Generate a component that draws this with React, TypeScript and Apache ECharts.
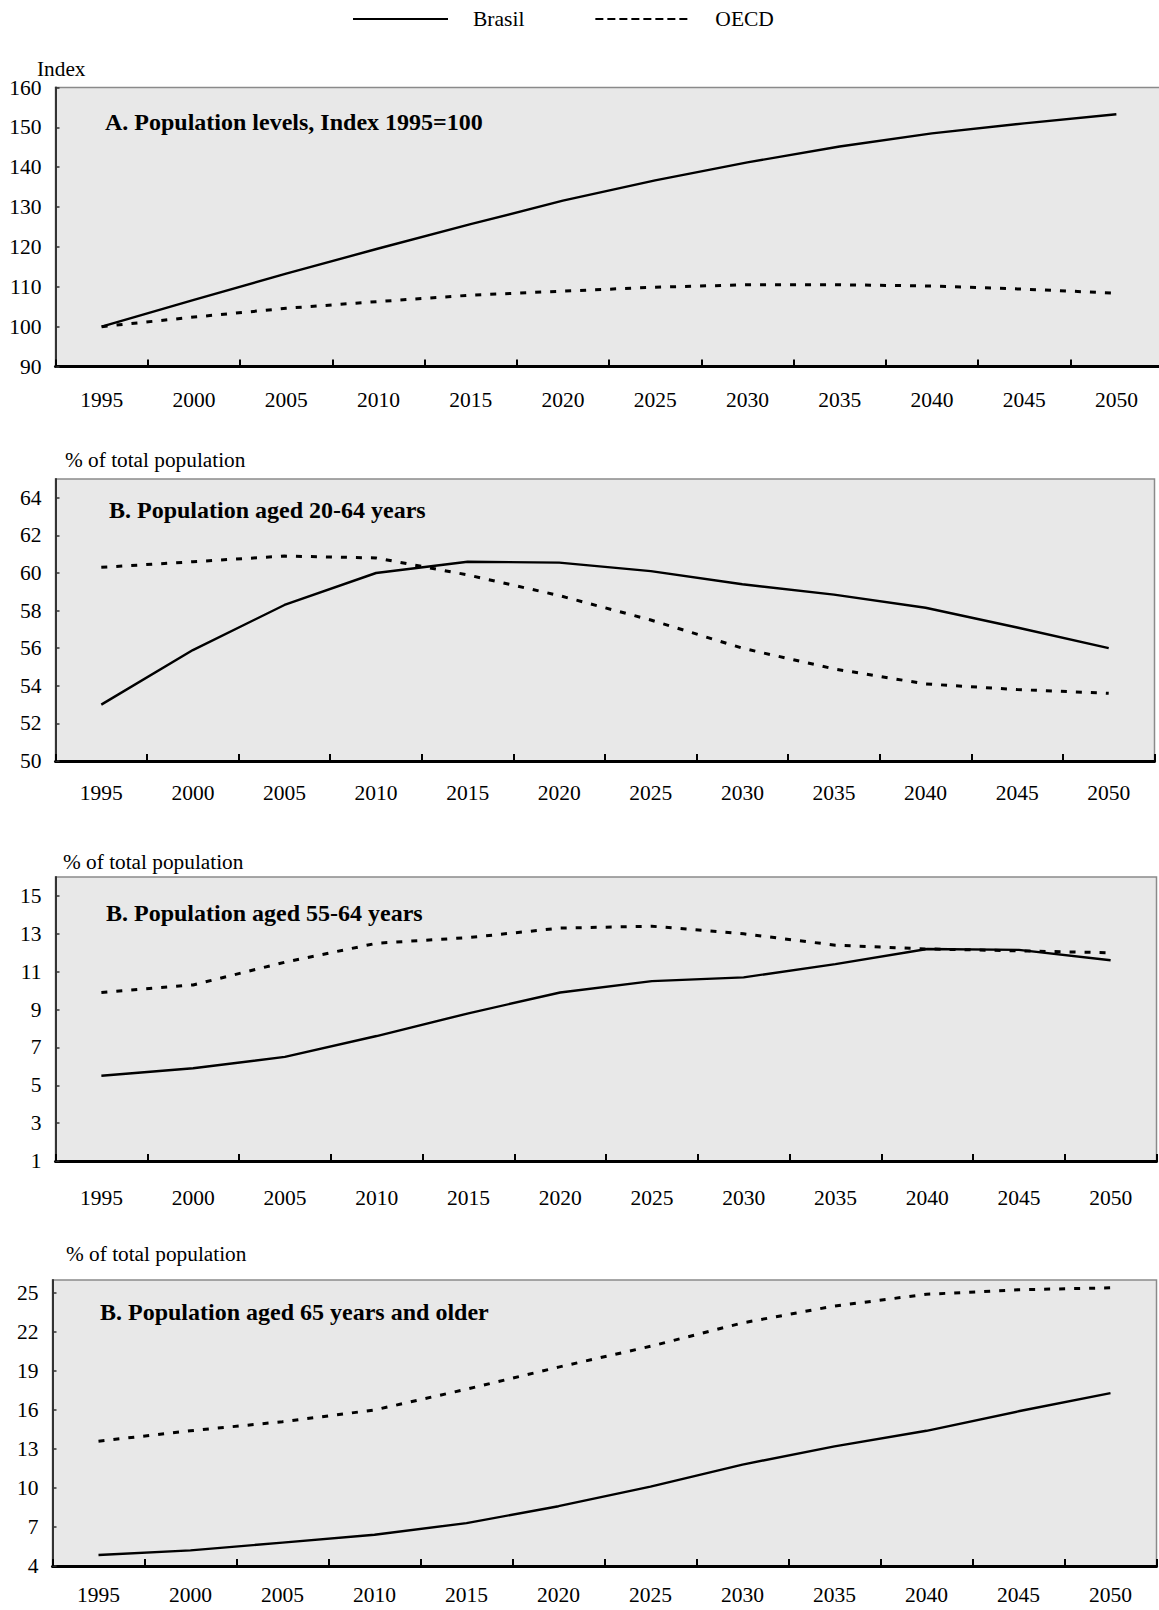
import React, { useEffect, useRef } from "react";
import * as echarts from "echarts";

const years = ["1995", "2000", "2005", "2010", "2015", "2020", "2025", "2030", "2035", "2040", "2045", "2050"];

const levelBrasil = [100, 106.7, 113.3, 119.6, 125.7, 131.6, 136.7, 141.2, 145.2, 148.5, 151.0, 153.3];
const levelOECD = [100, 102.4, 104.6, 106.3, 107.9, 108.9, 109.9, 110.5, 110.5, 110.2, 109.4, 108.4];

const age2064Brasil = [53.0, 55.9, 58.3, 60.0, 60.6, 60.55, 60.1, 59.4, 58.85, 58.15, 57.1, 56.0];
const age2064OECD = [60.3, 60.6, 60.9, 60.8, 59.9, 58.8, 57.5, 56.0, 54.9, 54.1, 53.8, 53.6];

const age5564Brasil = [5.5, 5.9, 6.5, 7.6, 8.8, 9.9, 10.5, 10.7, 11.4, 12.2, 12.15, 11.6];
const age5564OECD = [9.9, 10.3, 11.5, 12.5, 12.8, 13.3, 13.4, 13.0, 12.4, 12.2, 12.1, 12.0];

const age65Brasil = [4.85, 5.2, 5.8, 6.4, 7.3, 8.6, 10.1, 11.8, 13.2, 14.4, 15.9, 17.3];
const age65OECD = [13.6, 14.4, 15.1, 16.0, 17.6, 19.3, 20.9, 22.7, 24.0, 24.9, 25.25, 25.4];

const ticksA = [90, 100, 110, 120, 130, 140, 150, 160];
const ticksB = [50, 52, 54, 56, 58, 60, 62, 64];
const ticksC = [1, 3, 5, 7, 9, 11, 13, 15];
const ticksD = [4, 7, 10, 13, 16, 19, 22, 25];

const panelTitles = [
  "A. Population levels, Index 1995=100",
  "B. Population aged 20-64 years",
  "B. Population aged 55-64 years",
  "B. Population aged 65 years and older",
];

const FONT = "'Liberation Serif', 'Times New Roman', serif";

export default function App() {
  const ref = useRef<HTMLDivElement>(null);

  useEffect(() => {
    if (!ref.current) return;
    const chart = echarts.init(ref.current, undefined, { renderer: "svg" });

    const grids = [
      { left: 55.5, top: 87.5, width: 1107, height: 279 },
      { left: 55.5, top: 479, width: 1099, height: 282 },
      { left: 55.5, top: 877, width: 1101, height: 284 },
      { left: 52.5, top: 1280, width: 1104, height: 286 },
    ].map((g) => ({
      ...g,
      show: true,
      backgroundColor: "#e8e8e8",
      borderColor: "#8a8a8a",
      borderWidth: 1.5,
      containLabel: false,
      outerBoundsMode: "none",
    }));

    const xMargins = [22, 21, 26, 18];
    const xAxes = grids.map((_, i) => ({
      type: "category",
      gridIndex: i,
      data: years,
      boundaryGap: true,
      axisLine: { show: true, lineStyle: { color: "#000", width: 3 } },
      axisTick: { show: true, inside: true, length: 7, interval: 0, lineStyle: { color: "#000", width: 2 } },
      axisLabel: { interval: 0, margin: xMargins[i], fontSize: 21.5, fontFamily: FONT, color: "#000" },
      splitLine: { show: false },
    }));

    const yRanges = [
      { min: 90, max: 160, ticks: ticksA },
      { min: 50, max: 65, ticks: ticksB },
      { min: 1, max: 16, ticks: ticksC },
      { min: 4, max: 26, ticks: ticksD },
    ];
    const yAxes = yRanges.map((r, i) => ({
      type: "value",
      gridIndex: i,
      min: r.min,
      max: r.max,
      axisLine: { show: true, lineStyle: { color: "#333", width: 2 } },
      axisTick: { show: true, inside: true, length: 4, customValues: r.ticks, lineStyle: { color: "#333", width: 1.5 } },
      axisLabel: { customValues: r.ticks, margin: 14, fontSize: 21.5, fontFamily: FONT, color: "#000" },
      splitLine: { show: false },
    }));

    const pairs = [
      [levelBrasil, levelOECD],
      [age2064Brasil, age2064OECD],
      [age5564Brasil, age5564OECD],
      [age65Brasil, age65OECD],
    ];
    const series: any[] = [];
    pairs.forEach(([b, o], i) => {
      series.push({
        name: "Brasil",
        type: "line",
        xAxisIndex: i,
        yAxisIndex: i,
        data: b,
        symbol: "none",
        silent: true,
        lineStyle: { color: "#000", width: 2.4, type: "solid" },
        itemStyle: { color: "#000" },
      });
      series.push({
        name: "OECD",
        type: "line",
        xAxisIndex: i,
        yAxisIndex: i,
        data: o,
        symbol: "none",
        silent: true,
        lineStyle: { color: "#000", width: 3, type: [6, 9] },
        itemStyle: { color: "#000" },
      });
    });

    const textEl = (text: string, x: number, y: number, bold = false, size = 21.3) => ({
      type: "text",
      x,
      y,
      style: {
        text,
        fill: "#000",
        font: `${bold ? "bold " : ""}${size}px ${FONT}`,
        verticalAlign: "middle",
        align: "left",
      },
      silent: true,
      z: 100,
    });

    const graphics = [
      textEl("Index", 37, 69),
      textEl("% of total population", 65, 460),
      textEl("% of total population", 63, 862),
      textEl("% of total population", 66, 1254),
      textEl(panelTitles[0], 105, 122, true, 24),
      textEl(panelTitles[1], 109, 510, true, 24),
      textEl(panelTitles[2], 106, 913, true, 24),
      textEl(panelTitles[3], 100, 1312, true, 24),
    ];

    chart.setOption({
      animation: false,
      legend: {
        left: 352,
        top: 8,
        padding: 0,
        itemWidth: 95,
        itemHeight: 20,
        itemGap: 70,
        selectedMode: false,
        textStyle: { fontSize: 21.5, fontFamily: FONT, color: "#000", padding: [0, 0, 0, 20] },
        itemStyle: { color: "rgba(0,0,0,0)", borderWidth: 0, opacity: 0 },
        data: [
          { name: "Brasil", lineStyle: { width: 2, type: "solid", color: "#000" } },
          { name: "OECD", lineStyle: { width: 2, type: [8, 4], color: "#000" } },
        ],
      },
      grid: grids,
      xAxis: xAxes,
      yAxis: yAxes,
      series,
      graphic: graphics,
    });

    return () => chart.dispose();
  }, []);

  return (
    <div
      ref={ref}
      style={{ position: "absolute", left: 0, top: 0, width: 1159, height: 1610, background: "#fff" }}
    />
  );
}
